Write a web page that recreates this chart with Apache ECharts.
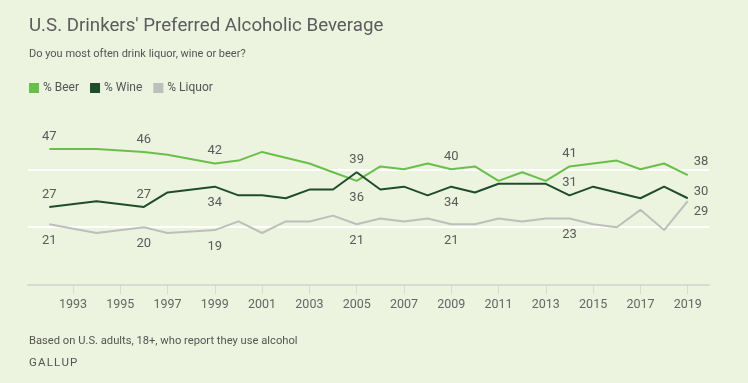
<!DOCTYPE html>
<html><head><meta charset="utf-8">
<script src="https://cdn.jsdelivr.net/npm/echarts@6/dist/echarts.min.js"></script>
<style>html,body{margin:0;padding:0;background:#ecf3de;}#c{width:748px;height:383px;}</style>
</head><body><div id="c"></div>
<script>
var years = [1992,1994,1996,1997,1999,2000,2001,2002,2003,2004,2005,2006,2007,2008,2009,2010,2011,2012,2013,2014,2015,2016,2017,2018,2019];
var beer   = [47,47,46,45,42,43,46,44,42,39,36,41,40,42,40,41,36,39,36,41,42,43,40,42,38];
var wine   = [27,29,27,32,34,31,31,30,33,33,39,33,34,31,34,32,35,35,35,31,34,32,30,34,30];
var liquor = [21,18,20,18,19,22,18,22,22,24,21,23,22,23,21,21,23,22,23,23,21,20,26,19,29];
var tickYears = [1993,1995,1997,1999,2001,2003,2005,2007,2009,2011,2013,2015,2017,2019];
var labelYears = [1992,1996,1999,2005,2009,2014,2019];

var labelFont = 'Roboto, sans-serif';
var labelColor = '#5a5a5a';
// label placement per series (styling)
var placement = {
  beer:   {1992:'top',1996:'top',1999:'top',2005:'bottom',2009:'top',2014:'top',2019:[0,-13]},
  wine:   {1992:'top',1996:'top',1999:'bottom',2005:'top',2009:'bottom',2014:'top',2019:[0,-7]},
  liquor: {1992:'bottom',1996:'bottom',1999:'bottom',2005:'bottom',2009:'bottom',2014:'bottom',2019:[0,11]}
};
function build(vals, key){
  return years.map(function(y,i){
    var item = {value:[y, vals[i]]};
    if (labelYears.indexOf(y) >= 0){
      var p = placement[key][y];
      var lab = {show:true, color:labelColor, fontSize:13, fontFamily:labelFont};
      if (Array.isArray(p)) { lab.position='right'; lab.distance=6; lab.offset=p; }
      else { lab.position=p; lab.distance = (p==='top') ? 6 : 10; }
      item.label = lab;
    }
    return item;
  });
}
var colors = {beer:'#6abf4b', wine:'#1f4d2c', liquor:'#bdbfba'};
var chart = echarts.init(document.getElementById('c'), null, {renderer:'canvas'});
var txt = function(t, top, size, color){
  return {text:t, left:29, top:top, padding:0,
    textStyle:{fontFamily:'Roboto, sans-serif', fontWeight:'normal', fontSize:size, color:color}};
};
chart.setOption({
  backgroundColor:'#ecf3de',
  animation:false,
  title:[
    txt("U.S. Drinkers' Preferred Alcoholic Beverage", 17, 18.7, '#5c5c5c'),
    txt('Do you most often drink liquor, wine or beer?', 49, 11, '#555'),
    txt('Based on U.S. adults, 18+, who report they use alcohol', 336, 11.2, '#555'),
    txt('G\u200AA\u200AL\u200AL\u200AU\u200AP', 357, 11.5, '#555')
  ],
  legend:{left:29, top:82, padding:0, icon:'rect', itemWidth:10, itemHeight:10, itemGap:11,
    textStyle:{fontFamily:'Roboto, sans-serif', fontSize:12, color:'#555', padding:[0,0,0,-1]},
    data:['% Beer','% Wine','% Liquor']},
  grid:{left:28, right:39, top:169.3, bottom:97.9},
  xAxis:{type:'value', min:1991.1, max:2019.9,
    axisLine:{show:true, lineStyle:{color:'#d8dbd2', width:2}},
    axisTick:{show:true, customValues:tickYears, length:9, lineStyle:{color:'#d8dbd2', width:1}},
    axisLabel:{customValues:tickYears, color:'#666', fontSize:12.5, margin:13,
      fontFamily:'Roboto, sans-serif', formatter:function(v){return String(v);}},
    splitLine:{show:false}},
  yAxis:{type:'value', min:0, max:40, interval:20,
    axisLine:{show:false}, axisTick:{show:false}, axisLabel:{show:false},
    splitLine:{show:true, lineStyle:{color:'#ffffff', width:2}}},
  series:[
    {name:'% Beer', type:'line', data:build(beer,'beer'), clip:false, showSymbol:true, symbol:'circle', symbolSize:0,
     lineStyle:{color:colors.beer, width:2}, itemStyle:{color:colors.beer}, z:3},
    {name:'% Wine', type:'line', data:build(wine,'wine'), clip:false, showSymbol:true, symbol:'circle', symbolSize:0,
     lineStyle:{color:colors.wine, width:2}, itemStyle:{color:colors.wine}, z:4},
    {name:'% Liquor', type:'line', data:build(liquor,'liquor'), clip:false, showSymbol:true, symbol:'circle', symbolSize:0,
     lineStyle:{color:colors.liquor, width:2}, itemStyle:{color:colors.liquor}, z:2}
  ]
});
</script></body></html>
